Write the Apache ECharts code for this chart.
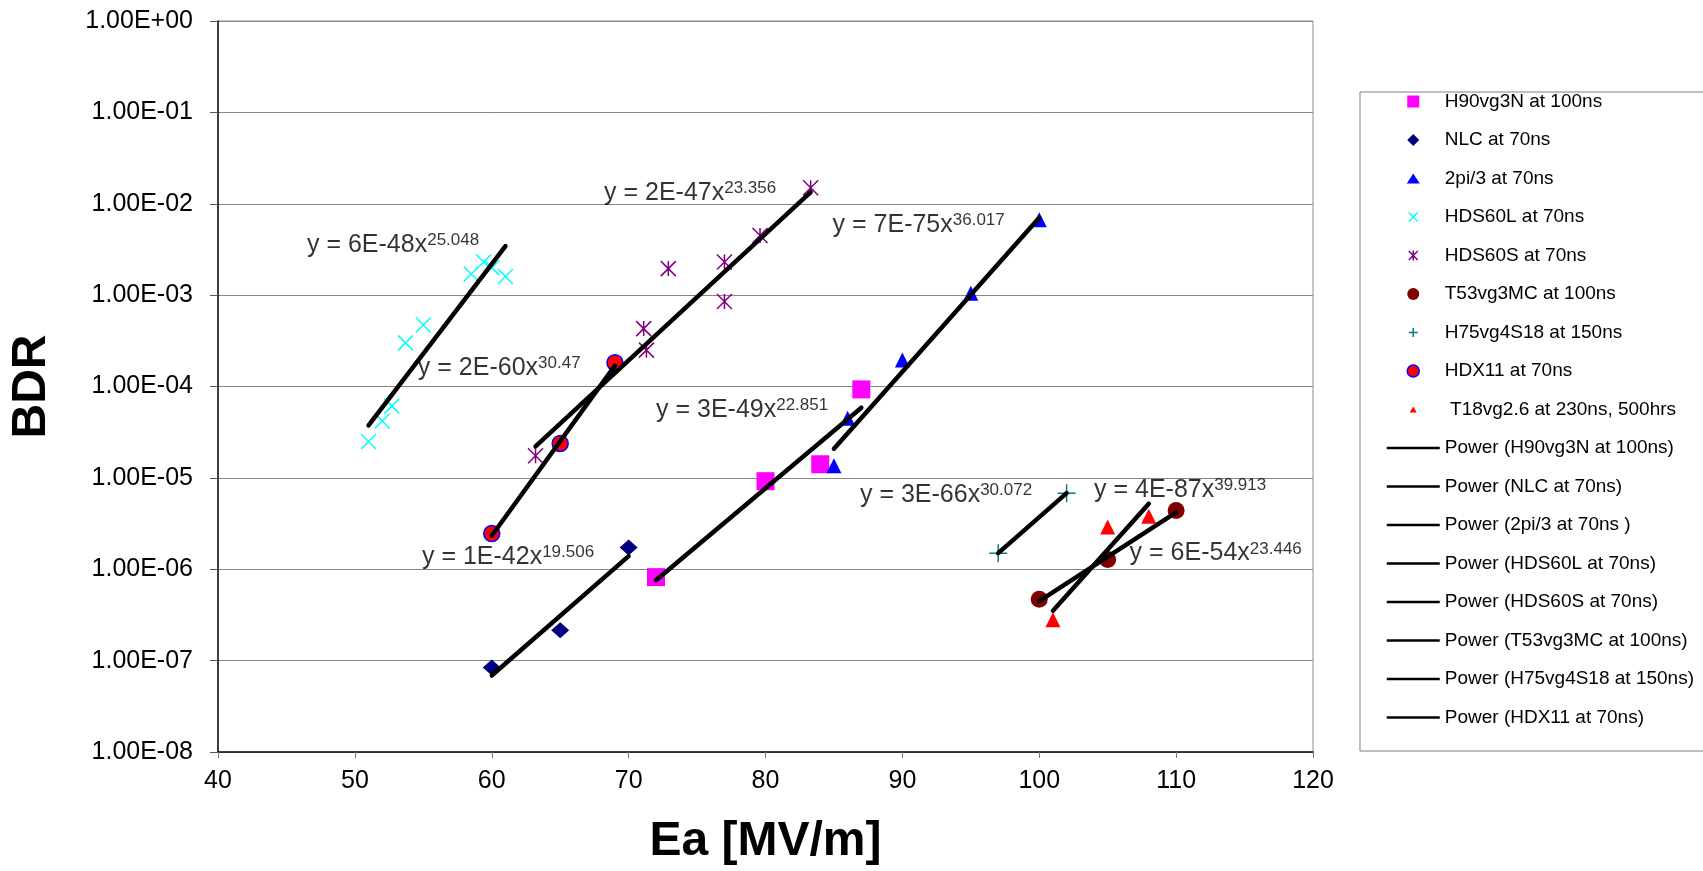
<!DOCTYPE html>
<html>
<head>
<meta charset="utf-8">
<title>BDR vs Ea</title>
<script src="https://cdn.jsdelivr.net/npm/echarts@6/dist/echarts.min.js"></script>
<style>
    html, body { margin: 0; padding: 0; background: #fff; }
    #chartBox { width: 1703px; height: 871px; }
</style>
</head>
<body>
<div id="chartBox"></div>
<script>
// measured points [Ea, BDR]
const h90vg3n = [[72, 8.2e-7], [80, 9.2e-6], [84, 1.41e-5], [87, 9.3e-5]];
const nlc = [[60, 8.4e-8], [65, 2.15e-7], [70, 1.73e-6]];
const twoPi3 = [[85, 1.36e-5], [86, 4.5e-5], [90, 1.95e-4], [95, 1.05e-3], [100, 6.7e-3]];
const hds60l = [[51, 2.5e-5], [52, 4.2e-5], [52.7, 6.1e-5], [53.7, 3.0e-4], [55, 4.7e-4],
    [58.5, 1.7e-3], [59.4, 2.3e-3], [60, 2.0e-3], [61, 1.6e-3]];
const hds60s = [[63.2, 1.75e-5], [71.1, 4.3e-4], [71.3, 2.5e-4], [72.9, 1.95e-3],
    [77, 2.3e-3], [77, 8.5e-4], [79.6, 4.5e-3], [83.3, 1.5e-2]];
const t53vg3mc = [[100, 4.7e-7], [105, 1.28e-6], [110, 4.4e-6]];
const h75vg4s18 = [[97, 1.5e-6], [102, 6.8e-6]];
const hdx11 = [[60, 2.46e-6], [65, 2.38e-5], [69, 1.82e-4]];
const t18vg26 = [[101, 2.8e-7], [105, 2.9e-6], [108, 3.8e-6]];

// trendline equations as printed on the chart
const eqText = ['y = 6E-48x', 'y = 2E-60x', 'y = 2E-47x', 'y = 7E-75x', 'y = 3E-49x',
    'y = 3E-66x', 'y = 4E-87x', 'y = 6E-54x', 'y = 1E-42x'];
const eqPower = ['25.048', '30.47', '23.356', '36.017', '22.851', '30.072', '39.913', '23.446', '19.506'];

const xTicks = {min: 40, max: 120, step: 10};
const yTicks = {min: 1e-8, max: 1};

// where each equation label sits (left edge, in axis units)
const eqAnchor = [[46.5, 3.55e-3], [54.6, 1.6e-4], [68.2, 1.32e-2], [84.9, 5.9e-3], [72.0, 5.5e-5],
    [86.9, 6.5e-6], [104.0, 7.35e-6], [106.6, 1.49e-6], [54.9, 1.37e-6]];

const FONT = "'Liberation Sans', Arial, sans-serif";

// least squares fit of ln(y) = ln(a) + b ln(x), like an Excel power trendline
function powerFit(points) {
    let n = points.length, sx = 0, sy = 0, sxx = 0, sxy = 0;
    points.forEach(function (p) {
        let lx = Math.log(p[0]), ly = Math.log(p[1]);
        sx += lx; sy += ly; sxx += lx * lx; sxy += lx * ly;
    });
    let b = (n * sxy - sx * sy) / (n * sxx - sx * sx);
    let a = Math.exp((sy - b * sx) / n);
    let xs = points.map(function (p) { return p[0]; });
    let x0 = Math.min.apply(null, xs), x1 = Math.max.apply(null, xs);
    return [[x0, a * Math.pow(x0, b)], [x1, a * Math.pow(x1, b)]];
}

function sciLabel(v) {
    let e = Math.round(Math.log10(v));
    return '1.00E' + (e < 0 ? '-' : '+') + String(Math.abs(e)).padStart(2, '0');
}

const markerX = 'path://M0,0L10,10M10,0L0,10';
const markerStar = 'path://M0,0L10,10M10,0L0,10M5,0L5,10';
const markerPlus = 'path://M5,0L5,10M0,5L10,5';

let scatterDefs = [
    {name: 'H90vg3N at 100ns', data: h90vg3n, symbol: 'rect', size: 18, color: '#FF00FF'},
    {name: 'NLC at 70ns', data: nlc, symbol: 'diamond', size: [18, 16], color: '#000080'},
    {name: '2pi/3 at 70ns', data: twoPi3, symbol: 'triangle', size: 15, color: '#0000FF'},
    {name: 'HDS60L at 70ns', data: hds60l, symbol: markerX, size: 15, color: '#00FFFF', stroke: 1.5},
    {name: 'HDS60S at 70ns', data: hds60s, symbol: markerStar, size: 15, color: '#800080', stroke: 1.5},
    {name: 'T53vg3MC at 100ns', data: t53vg3mc, symbol: 'circle', size: 17, color: '#800000'},
    {name: 'H75vg4S18 at 150ns', data: h75vg4s18, symbol: markerPlus, size: 18, color: '#008080', stroke: 1.5},
    {name: 'HDX11 at 70ns', data: hdx11, symbol: 'circle', size: 16, color: '#FF0000', border: '#0000FF'},
    {name: 'T18vg2.6 at 230ns, 500hrs', data: t18vg26, symbol: 'triangle', size: 15, color: '#FF0000'}
];

let trendDefs = [
    {name: 'Power (H90vg3N at 100ns)', data: h90vg3n},
    {name: 'Power (NLC at 70ns)', data: nlc},
    {name: 'Power (2pi/3 at 70ns )', data: twoPi3},
    {name: 'Power (HDS60L at 70ns)', data: hds60l},
    {name: 'Power (HDS60S at 70ns)', data: hds60s},
    {name: 'Power (T53vg3MC at 100ns)', data: t53vg3mc},
    {name: 'Power (H75vg4S18 at 150ns)', data: h75vg4s18},
    {name: 'Power (HDX11 at 70ns)', data: hdx11},
    {name: 'Power (T18vg2.6 at 230ns, 500hrs)', data: t18vg26}
];

// legend icons drawn inside a 53x12 box
const legendIcons = {
    'H90vg3N at 100ns': 'path://M0,0M53,12M20.5,0H32.5V12H20.5Z',
    'NLC at 70ns': 'path://M0,0M53,12M26.5,0L32.5,6L26.5,12L20.5,6Z',
    '2pi/3 at 70ns': 'path://M0,0M53,12M26.5,1L33,11H20Z',
    'HDS60L at 70ns': 'path://M0,0M53,12M22,1.5L31,10.5M31,1.5L22,10.5',
    'HDS60S at 70ns': 'path://M0,0M53,12M22,1.5L31,10.5M31,1.5L22,10.5M26.5,1L26.5,11',
    'T53vg3MC at 100ns': 'circle',
    'H75vg4S18 at 150ns': 'path://M0,0M53,12M26.5,1.5L26.5,10.5M22,6L31,6',
    'HDX11 at 70ns': 'circle',
    'T18vg2.6 at 230ns, 500hrs': 'path://M0,0M53,12M26.5,3L30,9H23Z'
};
const trendIcon = 'path://M0,0M53,12M0,4.75H53V7.25H0Z';

let legendData = scatterDefs.map(function (d) {
    let item = {name: d.name, icon: legendIcons[d.name], itemStyle: {borderWidth: 0}};
    if (d.stroke) item.itemStyle = {borderWidth: 1.5, borderColor: d.color};
    if (d.border) item.itemStyle = {borderWidth: 1.5, borderColor: d.border};
    return item;
});
trendDefs.slice(0, 8).forEach(function (d) {
    legendData.push({name: d.name, icon: trendIcon, itemStyle: {borderWidth: 0, color: '#000'}});
});

let series = [];
scatterDefs.forEach(function (d) {
    series.push({
        type: 'scatter', name: d.name, data: d.data,
        symbol: d.symbol, symbolSize: d.size,
        itemStyle: {
            color: d.color, opacity: 1,
            borderColor: d.border || d.color,
            borderWidth: d.stroke || (d.border ? 1.5 : 0)
        },
        emphasis: {disabled: true}
    });
});
trendDefs.forEach(function (d) {
    series.push({
        type: 'line', name: d.name, data: powerFit(d.data),
        symbol: 'none', color: '#000',
        lineStyle: {color: '#000', width: 4.5, cap: 'round'},
        emphasis: {disabled: true}, z: 3
    });
});
series.push({
    type: 'scatter', name: 'equations', data: eqAnchor,
    symbol: 'circle', symbolSize: 0, silent: true, z: 4,
    itemStyle: {color: 'transparent'},
    label: {
        show: true, position: 'right', distance: 0,
        formatter: function (p) {
            return '{b|' + eqText[p.dataIndex] + '}{s|' + eqPower[p.dataIndex] + '}';
        },
        rich: {
            b: {fontFamily: FONT, fontSize: 25, lineHeight: 26, color: '#000'},
            s: {fontFamily: FONT, fontSize: 17, lineHeight: 16, color: '#000', verticalAlign: 'top'}
        }
    },
    emphasis: {disabled: true}
});

let chartBox = echarts.init(document.getElementById('chartBox'));
let option = {
    animation: false,
    backgroundColor: '#fff',
    textStyle: {fontFamily: FONT},
    grid: {left: 218, right: 390, top: 21, bottom: 119, show: true, borderColor: '#8a8a8a', borderWidth: 1},
    legend: {
        orient: 'vertical', left: 1360, top: 92, selectedMode: false,
        padding: [0, 60, 24, 26],
        borderColor: '#808080', borderWidth: 1,
        itemWidth: 53, itemHeight: 12, itemGap: 19.5,
        textStyle: {fontFamily: FONT, fontSize: 19, lineHeight: 16, color: '#000'},
        formatter: function (name) {
            return name.indexOf('T18') === 0 ? ' ' + name : name;
        },
        data: legendData
    },
    xAxis: {
        type: 'value', min: xTicks.min, max: xTicks.max, interval: xTicks.step,
        name: 'Ea [MV/m]', nameLocation: 'middle', nameGap: 66,
        nameTextStyle: {fontFamily: FONT, fontSize: 48, fontWeight: 'bold', color: '#000'},
        axisLine: {show: true, lineStyle: {color: '#111', width: 1.5}},
        axisTick: {show: true, length: 6, lineStyle: {color: '#777'}},
        axisLabel: {fontFamily: FONT, fontSize: 25, color: '#000', margin: 17},
        splitLine: {show: false}
    },
    yAxis: {
        type: 'log', logBase: 10, min: yTicks.min, max: yTicks.max,
        name: 'BDR', nameLocation: 'middle', nameGap: 162,
        nameTextStyle: {fontFamily: FONT, fontSize: 48, fontWeight: 'bold', color: '#000'},
        axisLine: {show: true, lineStyle: {color: '#111', width: 1.5}},
        axisTick: {show: true, length: 8, lineStyle: {color: '#555'}},
        axisLabel: {fontFamily: FONT, fontSize: 25, color: '#000', margin: 25, formatter: sciLabel},
        splitLine: {show: true, lineStyle: {color: '#858585', width: 1}},
        minorTick: {show: false}
    },
    series: series
};
chartBox.setOption(option, true);
</script>
</body>
</html>
